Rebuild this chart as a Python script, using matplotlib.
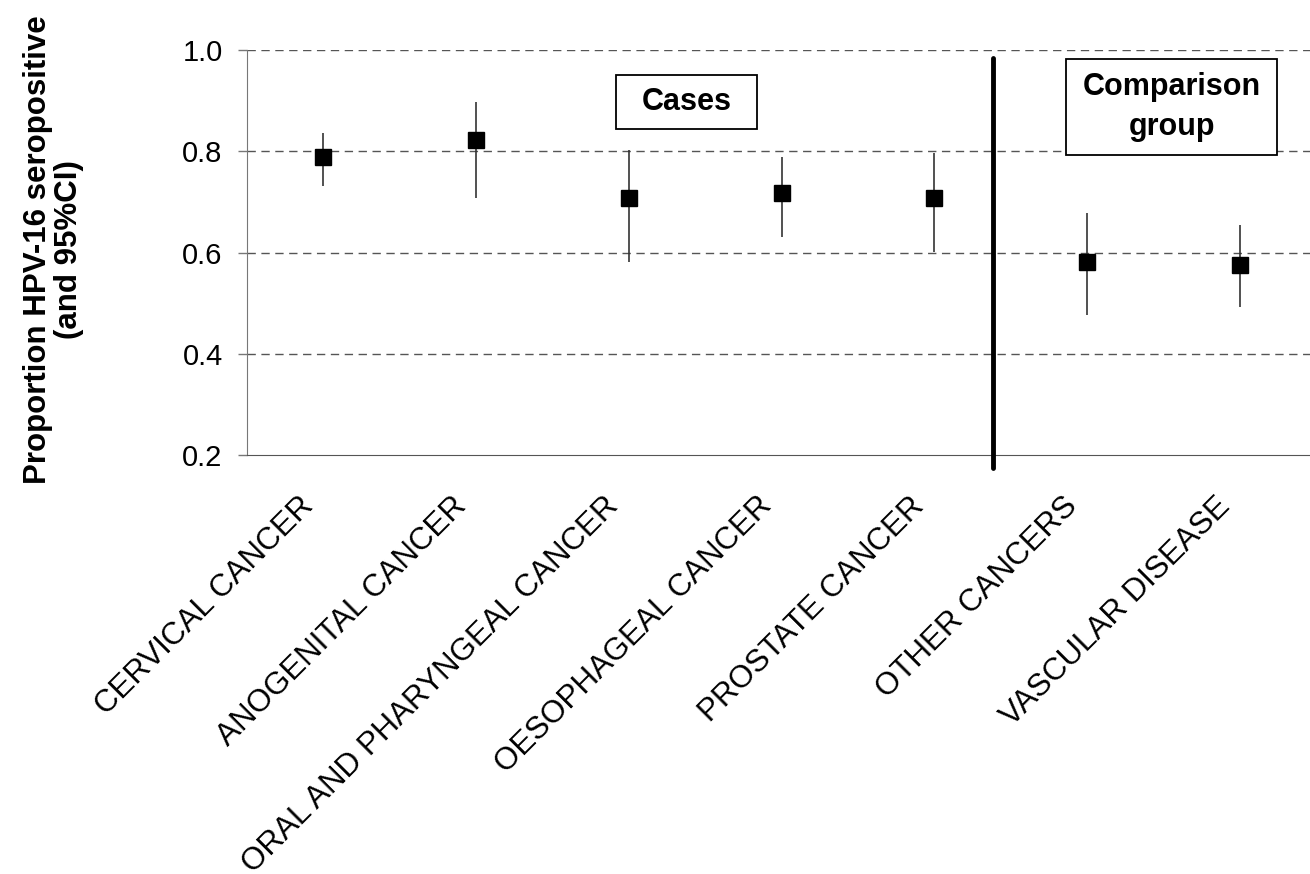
import numpy as np
import matplotlib
matplotlib.use("Agg")
import matplotlib.pyplot as plt
from matplotlib.patches import Rectangle
from matplotlib.transforms import ScaledTranslation

plt.rcParams['font.family'] = ['Liberation Sans', 'DejaVu Sans']

categories = ['CERVICAL CANCER', 'ANOGENITAL CANCER', 'ORAL AND PHARYNGEAL CANCER',
              'OESOPHAGEAL CANCER', 'PROSTATE CANCER', 'OTHER CANCERS', 'VASCULAR DISEASE']
proportion = [0.789, 0.822, 0.708, 0.717, 0.708, 0.581, 0.575]
ci_low = [0.731, 0.708, 0.581, 0.631, 0.601, 0.477, 0.492]
ci_high = [0.836, 0.897, 0.802, 0.789, 0.797, 0.678, 0.654]
yticks = [0.2, 0.4, 0.6, 0.8, 1.0]

fig = plt.figure(figsize=(13.1, 8.74), dpi=100)
ax = fig.add_axes([247 / 1310, 1 - 455 / 874, (1316 - 247) / 1310, (455 - 50) / 874])

x = np.arange(len(categories))
p = np.array(proportion)
err = [p - np.array(ci_low), np.array(ci_high) - p]
ax.errorbar(x, p, yerr=err, fmt='s', color='black', ms=11, ecolor='#333333',
            elinewidth=1.2, capsize=0, zorder=3)

ax.set_xlim(-0.5, 6.5)
ax.set_ylim(0.2, 1.0)
ax.set_yticks(yticks)
ax.set_yticklabels(['%.1f' % t for t in yticks], fontsize=21)
for t in yticks[1:]:
    ax.axhline(t, color='#555555', lw=1, ls=(0, (6, 4)), zorder=1)

ax.set_xticks(x)
ax.set_xticklabels(categories, fontsize=22.5, rotation=45, ha='right',
                   va='top', rotation_mode='anchor')
ax.tick_params(axis='x', length=0, pad=26)
ax.tick_params(axis='y', length=6.5, width=1, color='#777777', pad=11)
# Excel-style: label corner sits a little left of the category centre
shift = ScaledTranslation(-25 / 100, 0, fig.dpi_scale_trans)
for lab in ax.get_xticklabels():
    lab.set_transform(lab.get_transform() + shift)
for s in ['top', 'right']:
    ax.spines[s].set_visible(False)
ax.spines['left'].set_color('#777777')
ax.spines['bottom'].set_color('#555555')

# divider between cases and comparison group
ax.plot([4.385, 4.385], [0.984, 0.175], color='black', lw=3.5,
        solid_capstyle='round', clip_on=False, zorder=4)

# label boxes
ax.add_patch(Rectangle((1.916, 0.844), 2.840 - 1.916, 0.9506 - 0.844,
                       fc='white', ec='black', lw=1.3, zorder=5))
ax.text(2.378, 0.897, 'Cases', fontsize=22, fontweight='bold', ha='center',
        va='center', zorder=6)
ax.add_patch(Rectangle((4.863, 0.793), 6.245 - 4.863, 0.982 - 0.793,
                       fc='white', ec='black', lw=1.3, zorder=5))
ax.text(5.554, 0.8875, 'Comparison\ngroup', fontsize=22, fontweight='bold',
        ha='center', va='center', linespacing=1.4, zorder=6)

fig.text(0.041, 0.714, 'Proportion HPV-16 seropositive\n(and 95%CI)', rotation=90,
         fontsize=22.5, fontweight='bold', ha='center', va='center', linespacing=1.05)

fig.savefig('out.png', dpi=100)
